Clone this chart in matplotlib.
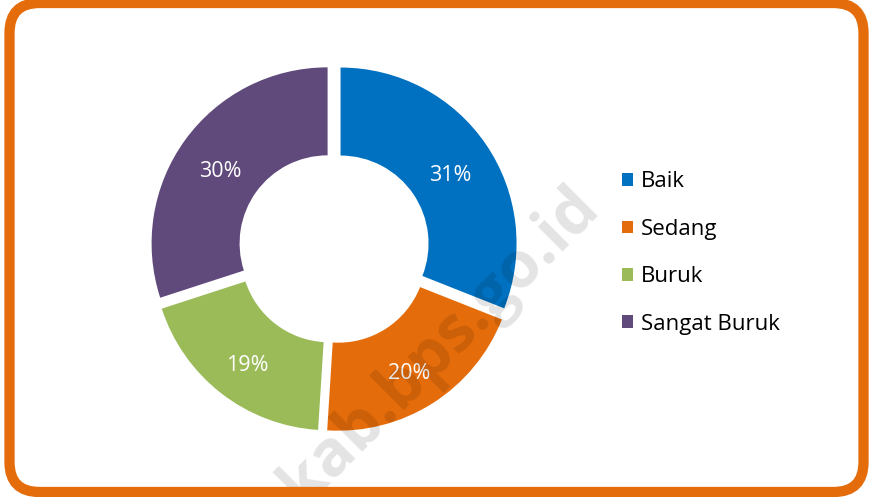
import matplotlib.pyplot as plt
from matplotlib.patches import FancyBboxPatch

labels = ['Baik', 'Sedang', 'Buruk', 'Sangat Buruk']
values = [31, 20, 19, 30]
colors = ['#0070C0', '#E46C0A', '#9BBB59', '#604A7B']

plt.rcParams['font.family'] = ['Open Sans', 'DejaVu Sans']

W, H = 871, 497
fig = plt.figure(figsize=(W / 100, H / 100), dpi=100, facecolor='white')

# orange rounded frame, in pixel coordinates, drawn on top of everything
frame = FancyBboxPatch((9.5, 5), 854, 489,
                       boxstyle='round,pad=0,rounding_size=30',
                       facecolor='none', edgecolor='#E46C0A', linewidth=7.4,
                       transform=None, zorder=20)
fig.patches.append(frame)

# donut axes centred at (334, 248) px from top, radius ~176 px
cx, cy, half = 334, H - 248, 200
ax = fig.add_axes([(cx - half) / W, (cy - half) / H, 2 * half / W, 2 * half / H])
ax.set_zorder(1)

wedges, _, autotexts = ax.pie(
    values, colors=colors, startangle=90, counterclock=False,
    explode=[0.045] * 4, radius=1.0, autopct='%d%%', pctdistance=0.755,
    wedgeprops=dict(width=0.5, linewidth=0),
    textprops=dict(color='white', fontsize=15.5))
# data labels sit a little low, as in the source chart
for t in autotexts:
    x, y = t.get_position()
    t.set_position((x, y - 0.035))

lim = half / 176
ax.set_xlim(-lim, lim)
ax.set_ylim(-lim, lim)
ax.set_aspect('equal')
ax.axis('off')

leg = fig.legend(wedges, labels, loc='center left',
                 bbox_to_anchor=(611 / W, (H - 253) / H), frameon=False,
                 fontsize=16, handlelength=0.5, handleheight=0.5,
                 handletextpad=0.35, labelspacing=1.19, borderpad=0)
leg.set_zorder(5)

# faint watermark, sits under the frame border
fig.text(440 / W, 1 - 346 / H, 'kab.bps.go.id', rotation=45, fontsize=46,
         fontweight='bold', color='black', alpha=0.11,
         ha='center', va='center', zorder=10)

fig.savefig('out.png', dpi=100)
